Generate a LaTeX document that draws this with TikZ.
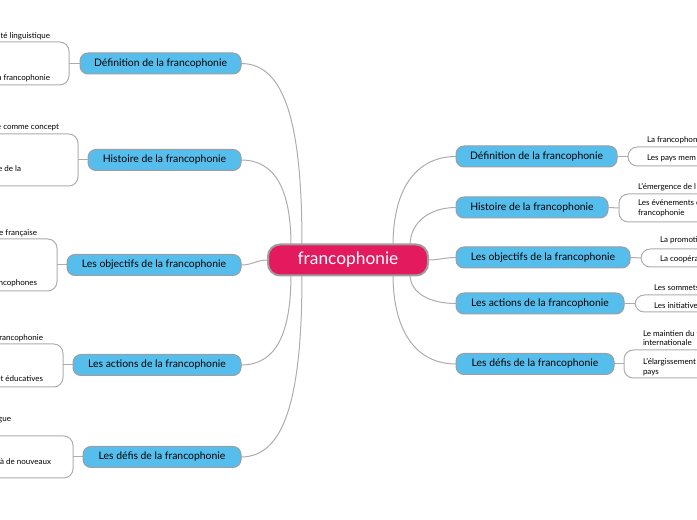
\documentclass[tikz,border=0pt]{standalone}
\usepackage{fontspec}
\setmainfont{Lato}
\usetikzlibrary{positioning,backgrounds}
\definecolor{rootpink}{RGB}{228,26,94}
\definecolor{topicblue}{RGB}{86,190,236}
\definecolor{linegray}{RGB}{172,172,172}
\definecolor{edgegray}{RGB}{158,158,158}
\begin{document}
\begin{tikzpicture}[x=0.75pt,y=-0.75pt,
  every node/.style={inner sep=0pt,outer sep=0pt},
  root/.style={fill=rootpink,draw=edgegray,line width=1.5pt,rounded corners=9pt,
    minimum width=160*0.75pt,minimum height=31*0.75pt,text=white,
    font=\fontsize{13}{15}\selectfont},
  topic/.style={fill=topicblue,draw=edgegray,line width=0.75pt,rounded corners=6pt,
    minimum height=21*0.75pt,font=\fontsize{7.8}{9}\selectfont},
  subr/.style={anchor=west,align=left,font=\fontsize{6}{7.2}\selectfont},
  subl/.style={anchor=east,align=right,font=\fontsize{6}{7.2}\selectfont},
  link/.style={draw=linegray,line width=0.75pt},
  bracket/.style={draw=linegray,line width=0.75pt,rounded corners=7pt},
]
\useasboundingbox (0,0) rectangle (697,520);
\clip (0,0) rectangle (697,520);

% centre
\node[root] (root) at (348,260) {francophonie};

% left topics
\node[topic,minimum width=161*0.75pt] (l1) at (160.5,63.5) {Définition de la francophonie};
\node[topic,minimum width=153*0.75pt] (l2) at (164.5,160) {Histoire de la francophonie};
\node[topic,minimum width=174*0.75pt] (l3) at (154,265) {Les objectifs de la francophonie};
\node[topic,minimum width=168*0.75pt] (l4) at (157,365) {Les actions de la francophonie};
\node[topic,minimum width=158*0.75pt] (l5) at (162,457) {Les défis de la francophonie};

% right topics
\node[topic,minimum width=161*0.75pt] (r1) at (536.5,156.5) {Définition de la francophonie};
\node[topic,minimum width=152*0.75pt] (r2) at (532,207.5) {Histoire de la francophonie};
\node[topic,minimum width=174*0.75pt] (r3) at (543,257.5) {Les objectifs de la francophonie};
\node[topic,minimum width=168*0.75pt] (r4) at (540,303.5) {Les actions de la francophonie};
\node[topic,minimum width=158*0.75pt] (r5) at (535,364) {Les défis de la francophonie};

% attach points on the centre
\coordinate (rl1) at (302,246);
\coordinate (rl2) at (291,246);
\coordinate (rl4) at (291,274);
\coordinate (rl5) at (302,274);
\coordinate (rr1) at (393,246);
\coordinate (rr2) at (410,246);
\coordinate (rr4) at (410,274);
\coordinate (rr5) at (393,274);

% bracket mid points
\coordinate (bl1) at (69,63.5);
\coordinate (bl2) at (78,160);
\coordinate (bl3) at (57,265);
\coordinate (bl4) at (63,365);
\coordinate (bl5) at (73,457);
\coordinate (br1) at (628,156.5);
\coordinate (br2) at (619,208);
\coordinate (br3) at (641,258);
\coordinate (br4) at (635,303.5);
\coordinate (br5) at (624,364);

\begin{scope}[on background layer]
\draw[link] (rl1) .. controls +(0,-120) and +(45,0) .. (l1.east);
\draw[link] (rl2) .. controls +(0,-55) and +(35,0) .. (l2.east);
\draw[link] (root.west) .. controls +(-12,0) and +(12,0) .. (l3.east);
\draw[link] (rl4) .. controls +(0,60) and +(35,0) .. (l4.east);
\draw[link] (rl5) .. controls +(0,120) and +(45,0) .. (l5.east);
\draw[link] (rr1) .. controls +(0,-60) and +(-38,0) .. (r1.west);
\draw[link] (rr2) .. controls +(0,-25) and +(-25,0) .. (r2.west);
\draw[link] (root.east) .. controls +(12,0) and +(-12,0) .. (r3.west);
\draw[link] (rr4) .. controls +(0,20) and +(-25,0) .. (r4.west);
\draw[link] (rr5) .. controls +(0,60) and +(-38,0) .. (r5.west);
\end{scope}

% left brackets
\draw[link] (l1.west) -- (bl1);
\draw[bracket] (-10,42) -- (69,42) -- (69,85) -- (-10,85);
\draw[link] (l2.west) -- (bl2);
\draw[bracket] (-10,134) -- (78,134) -- (78,186) -- (-10,186);
\draw[link] (l3.west) -- (bl3);
\draw[bracket] (-10,239) -- (57,239) -- (57,291) -- (-10,291);
\draw[link] (l4.west) -- (bl4);
\draw[bracket] (-10,344) -- (63,344) -- (63,387) -- (-10,387);
\draw[link] (l5.west) -- (bl5);
\draw[bracket] (-10,436) -- (73,436) -- (73,478) -- (-10,478);

% right brackets
\draw[link] (r1.east) -- (br1);
\draw[bracket] (710,147) -- (628,147) -- (628,166) -- (710,166);
\draw[link] (r2.east) -- (br2);
\draw[bracket] (710,194) -- (619,194) -- (619,222) -- (710,222);
\draw[link] (r3.east) -- (br3);
\draw[bracket] (710,249) -- (641,249) -- (641,267) -- (710,267);
\draw[link] (r4.east) -- (br4);
\draw[bracket] (710,295) -- (635,295) -- (635,312) -- (710,312);
\draw[link] (r5.east) -- (br5);
\draw[bracket] (710,350) -- (624,350) -- (624,378) -- (710,378);

% left sub texts
\node[subl] (tl1a) at (50,36) {uté linguistique};
\node[subl] (tl1b) at (50,78) {a francophonie};
\node[subl] (tl2a) at (59,128) {e comme concept};
\node[subl] (tl2b) at (21,169) {e de la};
\node[subl] (tl3a) at (37,233) {e française};
\node[subl] (tl3b) at (37,283) {ncophones};
\node[subl] (tl4a) at (43,338) {Francophonie};
\node[subl] (tl4b) at (43,379) {et éducatives};
\node[subl] (tl5a) at (11,420) {gue};
\node[subl] (tl5b) at (51,462) {à de nouveaux};

% right sub texts
\node[subr] (tr1a) at (647,140) {La francophon};
\node[subr] (tr1b) at (647,158) {Les pays mem};
\node[subr] (tr2a) at (638,187) {L'émergence de l};
\node[subr] (tr2b) at (638,208.5) {Les événements c\\francophonie};
\node[subr] (tr3a) at (660,240) {La promoti};
\node[subr] (tr3b) at (660,259) {La coopéra};
\node[subr] (tr4a) at (654,288) {Les sommets};
\node[subr] (tr4b) at (654,306) {Les initiative};
\node[subr] (tr5a) at (643,338) {Le maintien du f\\internationale};
\node[subr] (tr5b) at (643,367) {L'élargissement\\pays};
\end{tikzpicture}
\end{document}
